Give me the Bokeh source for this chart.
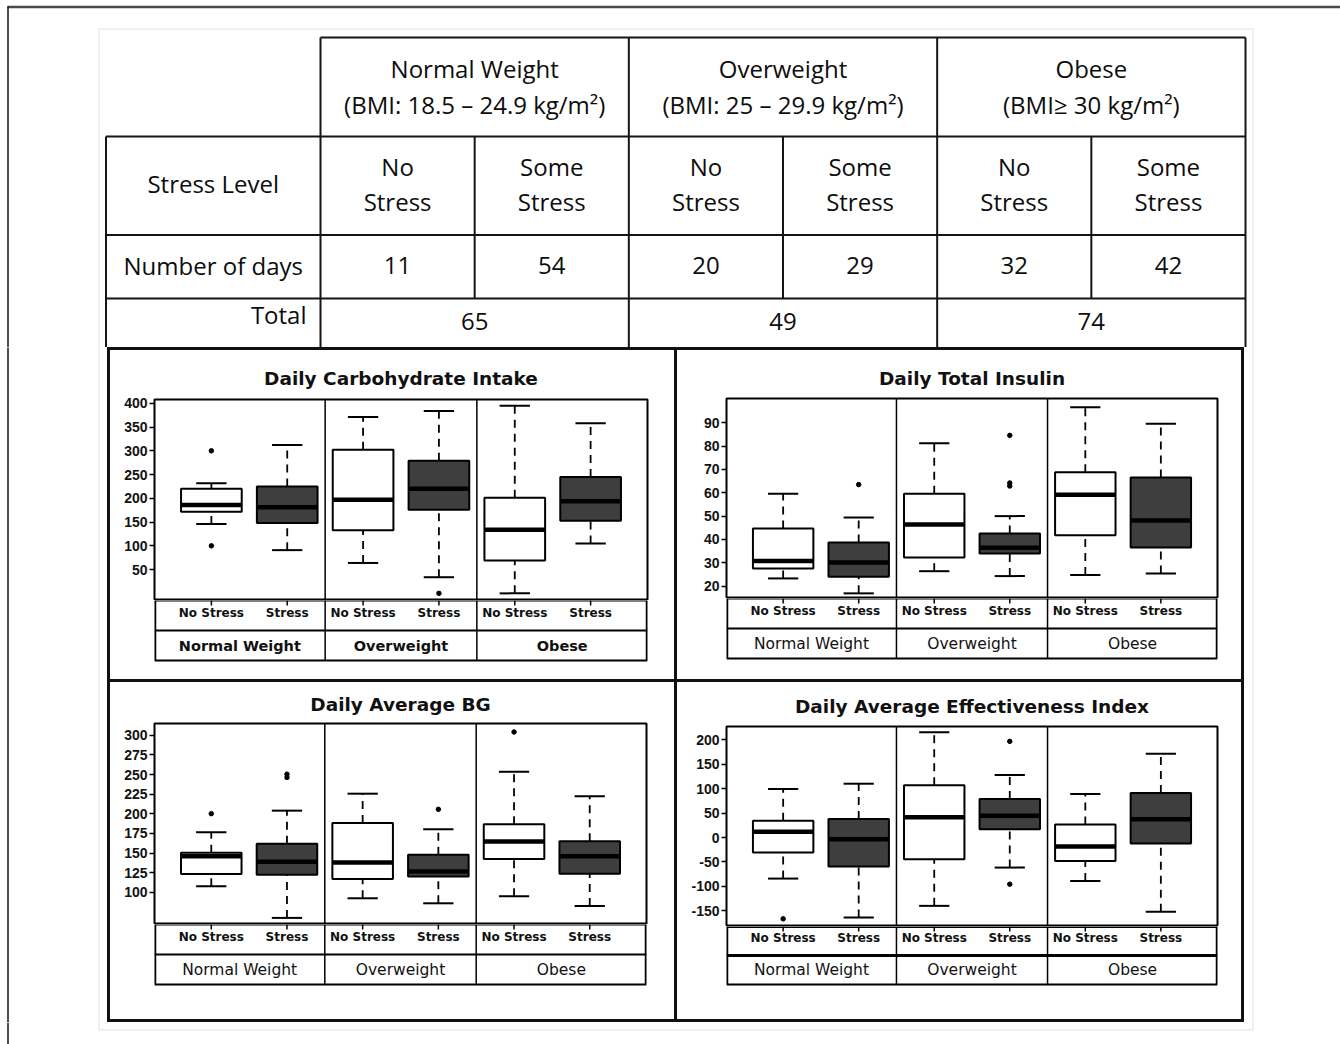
from bokeh.plotting import figure
from bokeh.layouts import column, row
from bokeh.models import Range1d, FixedTicker, Span, Spacer, GlobalInlineStyleSheet
from bokeh.core.properties import value
from bokeh.embed import file_html
from bokeh.resources import INLINE

# ---------------------------------------------------------------- data
bmi_groups = ["Normal Weight", "Overweight", "Obese"]
bmi_ranges = ["(BMI: 18.5 – 24.9 kg/m²)", "(BMI: 25 – 29.9 kg/m²)", "(BMI≥ 30 kg/m²)"]
table_stress = [["No", "Stress"], ["Some", "Stress"]]
stress_labels = ["No Stress", "Stress"]
days = [11, 54, 20, 29, 32, 42]

# box statistics, order: NW-no, NW-stress, OW-no, OW-stress, OB-no, OB-stress
carb_lo = [146, 91, 64, 34, 0, 105]
carb_q1 = [172, 148, 133, 176, 69, 153]
carb_med = [186, 181, 197, 220, 134, 194]
carb_q3 = [220, 225, 302, 279, 201, 245]
carb_hi = [232, 312, 371, 384, 395, 358]
carb_out_box = [0, 0, 3]
carb_out_val = [300, 100, 0]

ins_lo = [23.3, 16.9, 26.4, 24.3, 24.8, 25.4]
ins_q1 = [27.6, 24.0, 32.3, 34.0, 41.8, 36.5]
ins_med = [30.8, 30.1, 46.4, 36.4, 59.2, 48.1]
ins_q3 = [44.7, 38.7, 59.6, 42.5, 68.8, 66.5]
ins_hi = [59.6, 49.4, 81.2, 50.0, 96.6, 89.6]
ins_out_box = [1, 3, 3, 3]
ins_out_val = [63.5, 84.6, 64.2, 62.9]

bg_lo = [107.6, 67.4, 92.4, 86.0, 95.0, 82.7]
bg_q1 = [123.3, 122.4, 117.0, 120.0, 142.3, 123.7]
bg_med = [146.0, 139.0, 138.0, 126.6, 164.7, 146.0]
bg_q3 = [150.3, 161.7, 188.4, 147.8, 186.7, 165.1]
bg_hi = [176.5, 204.0, 225.6, 180.3, 253.5, 222.2]
bg_out_box = [0, 1, 1, 3, 4]
bg_out_val = [200.2, 250.5, 246.3, 205.7, 304.2]

eff_lo = [-84.0, -163.6, -139.8, -61.5, -88.7, -152.0]
eff_q1 = [-30.8, -59.4, -44.4, 16.8, -47.9, -12.4]
eff_med = [12.0, -3.6, 41.3, 44.7, -18.6, 37.3]
eff_q3 = [34.5, 38.0, 106.7, 78.8, 26.4, 91.0]
eff_hi = [99.2, 110.0, 215.0, 127.8, 89.0, 171.4]
eff_out_box = [0, 3, 3]
eff_out_val = [-166.3, 196.6, -95.5]

carb_ticks = [50, 100, 150, 200, 250, 300, 350, 400]
ins_ticks = [20, 30, 40, 50, 60, 70, 80, 90]
bg_ticks = [100, 125, 150, 175, 200, 225, 250, 275, 300]
eff_ticks = [-150, -100, -50, 0, 50, 100, 150, 200]

# ---------------------------------------------------------------- styles
INK = "#151515"
GRAY_FRAME = "#e2e2e2"
TABLE_FONT = value("Open Sans")
BOX_FILL = ["white", "#3e3e3e"] * 3


def blank_fig(w, h, xr, yr):
    f = figure(width=w, height=h, x_range=Range1d(*xr), y_range=Range1d(*yr),
               output_backend="svg", toolbar_location=None, min_border=0,
               x_axis_location=None, y_axis_location=None,
               outline_line_color=None, background_fill_color="white",
               border_fill_color="white")
    f.grid.visible = False
    return f


# ---------------------------------------------------------------- table
W_PAGE, H_PAGE = 1340, 1044
TOP_H = 347
top = blank_fig(W_PAGE, TOP_H, (0, W_PAGE), (TOP_H, 0))

TX0, TC0, TX1 = 105.5, 320.0, 1245.0
COL_W = (TX1 - TC0) / 6
ROWS = [37, 136, 234.5, 298, 347]
edges = [TC0 + COL_W * i for i in range(7)]
col_mid = [TC0 + COL_W * (i + 0.5) for i in range(6)]
grp_mid = [TC0 + COL_W * (2 * g + 1) for g in range(3)]

# page edge and faint frame
top.segment([7], [6.5], [W_PAGE], [6.5], line_color="#4a4a4a", line_width=2.5)
top.segment([7.5], [6], [7.5], [TOP_H], line_color=INK, line_width=1.5)
top.segment([98.5, 1252.5, 98.5], [28.5, 28.5, 28.5], [98.5, 1252.5, 1252.5], [TOP_H, TOP_H, 28.5],
            line_color=GRAY_FRAME, line_width=1)

# grid lines of the table
hx0 = [TC0, TX0, TX0, TX0]
hx1 = [TX1] * 4
hy = ROWS[:4]
top.segment(hx0, hy, hx1, hy, line_color=INK, line_width=2)
vx = [TX0, edges[0], edges[2], edges[4], edges[6], edges[1], edges[3], edges[5]]
vy0 = [ROWS[1], ROWS[0], ROWS[0], ROWS[0], ROWS[0], ROWS[1], ROWS[1], ROWS[1]]
vy1 = [ROWS[4]] * 5 + [ROWS[3]] * 3
top.segment(vx, vy0, vx, vy1, line_color=INK, line_width=2)

txt = dict(text_font=TABLE_FONT, text_font_size="24px", text_color="#0d0d0d",
           text_align="center", text_baseline="middle")
top.text(x=grp_mid, y=[68] * 3, text=bmi_groups, **txt)
top.text(x=grp_mid, y=[103.5] * 3, text=bmi_ranges, **txt)
top.text(x=col_mid, y=[166] * 6, text=[table_stress[i % 2][0] for i in range(6)], **txt)
top.text(x=col_mid, y=[201] * 6, text=[table_stress[i % 2][1] for i in range(6)], **txt)
top.text(x=col_mid, y=[265] * 6, text=[str(d) for d in days], **txt)
totals = [days[2 * g] + days[2 * g + 1] for g in range(3)]
top.text(x=grp_mid, y=[321] * 3, text=[str(t) for t in totals], **txt)
row_head_x = (TX0 + TC0) / 2
top.text(x=[row_head_x, row_head_x], y=[183, 265], text=["Stress Level", "Number of days"], **txt)
top.text(x=[306], y=[314], text=["Total"], text_font=TABLE_FONT, text_font_size="24px",
         text_color="#0d0d0d", text_align="right", text_baseline="middle")


# ---------------------------------------------------------------- box panels
X_LO, X_HI = 0.25, 6.75
GROUP_EDGES = [X_LO, 2.5, 4.5, X_HI]


def box_panel(title, lo, q1, med, q3, hi, out_box, out_val, yr, ticks, geo,
              group_style="normal", heavy=False, standoff=20):
    L, FW, R, T, FH, LH, RH = geo
    W = L + FW + R
    xs = [i + 1 for i in range(6)]
    p = figure(width=W, height=T + FH, x_range=Range1d(X_LO, X_HI), y_range=Range1d(*yr),
               output_backend="svg", toolbar_location=None, x_axis_location=None,
               min_border_left=L, min_border_right=R, min_border_top=T, min_border_bottom=0,
               outline_line_color="black", outline_line_width=2,
               background_fill_color="white", border_fill_color="white")
    p.grid.visible = False
    p.title.text = title
    p.title.align = "center"
    p.title.text_font = "DejaVu Sans"
    p.title.text_font_size = "18.5px"
    p.title.text_font_style = "bold"
    p.title.text_color = "#111111"
    p.title.standoff = standoff

    ax = p.yaxis[0]
    ax.ticker = FixedTicker(ticks=ticks)
    ax.major_label_overrides = {t: str(t) for t in ticks}
    ax.axis_line_color = None
    ax.major_tick_in = 0
    ax.major_tick_out = 5
    ax.major_tick_line_width = 1.5
    ax.major_tick_line_color = "black"
    ax.minor_tick_line_color = None
    ax.major_label_text_font = "Liberation Sans"
    ax.major_label_text_font_size = "14px"
    ax.major_label_text_font_style = "bold"
    ax.major_label_text_color = "#111111"
    ax.major_label_standoff = 2

    for xsep in GROUP_EDGES[1:3]:
        p.add_layout(Span(location=xsep, dimension="height", line_color="black", line_width=1.5))

    # whiskers
    p.segment(xs, q3, xs, hi, line_color="black", line_width=1.8, line_dash="8 6")
    p.segment(xs, lo, xs, q1, line_color="black", line_width=1.8, line_dash="8 6")
    c0 = [x - 0.2 for x in xs]
    c1 = [x + 0.2 for x in xs]
    p.segment(c0, hi, c1, hi, line_color="black", line_width=2)
    p.segment(c0, lo, c1, lo, line_color="black", line_width=2)
    # boxes and medians
    p.vbar(x=xs, width=0.8, bottom=q1, top=q3, fill_color=BOX_FILL,
           line_color="black", line_width=2)
    p.segment([x - 0.4 for x in xs], med, [x + 0.4 for x in xs], med,
              line_color="black", line_width=4.5)
    p.scatter([xs[b] for b in out_box], out_val, size=4.5, color="black")

    # category table under the plot (its frame lines up with the plot frame above)
    lf = blank_fig(W, LH, (X_LO, X_HI), (LH, 0))
    lw_top = 3 if heavy else 2
    lf.segment([X_LO] * 3, [0, RH, 2 * RH], [X_HI] * 3, [0, RH, 2 * RH],
               line_color="black", line_width=[lw_top, lw_top, 1.8])
    lf.segment(GROUP_EDGES, [0] * 4, GROUP_EDGES, [2 * RH] * 4, line_color="black",
               line_width=[3.5, 1.5, 1.5, 3.5])
    lf.segment(xs, [0] * 6, xs, [5] * 6, line_color="black", line_width=1.5)
    lf.text(x=xs, y=[RH * 0.4] * 6, text=stress_labels * 3, text_font=value("DejaVu Sans"),
            text_font_size="12px", text_font_style="bold", text_color="#111111",
            text_align="center", text_baseline="middle")
    cell_mid = [(GROUP_EDGES[g] + GROUP_EDGES[g + 1]) / 2 for g in range(3)]
    lf.text(x=cell_mid, y=[RH * 1.5] * 3, text=bmi_groups, text_font=value("DejaVu Sans"),
            text_font_size="14.5px" if group_style == "bold" else "15.5px",
            text_font_style=group_style, text_color="#111111",
            text_align="center", text_baseline="middle")
    return column(p, lf, spacing=0)


carb = box_panel("Daily Carbohydrate Intake", carb_lo, carb_q1, carb_med, carb_q3, carb_hi,
                 carb_out_box, carb_out_val, (-15, 408), carb_ticks,
                 (44, 493, 27, 49, 201, 79, 30), group_style="bold", standoff=22)
ins = box_panel("Daily Total Insulin", ins_lo, ins_q1, ins_med, ins_q3, ins_hi,
                ins_out_box, ins_out_val, (14.7, 100.4), ins_ticks,
                (49, 491, 24, 48, 200, 81, 30), standoff=20)
bg = box_panel("Daily Average BG", bg_lo, bg_q1, bg_med, bg_q3, bg_hi,
               bg_out_box, bg_out_val, (59, 315), bg_ticks,
               (44, 492, 28, 41, 201, 95, 30), standoff=17)
eff = box_panel("Daily Average Effectiveness Index", eff_lo, eff_q1, eff_med, eff_q3, eff_hi,
                eff_out_box, eff_out_val, (-182, 227), eff_ticks,
                (49, 491, 24, 44, 200, 93, 29), heavy=True, standoff=20)


def bar(w, h):
    return Spacer(width=w, height=h, styles={"background-color": "#111111"})


PW, B = 564, 3
block = column(
    bar(2 * PW + 3 * B, B),
    row(bar(B, 329), carb, bar(B, 329), ins, bar(B, 329), spacing=0),
    bar(2 * PW + 3 * B, B),
    row(bar(B, 337), bg, bar(B, 337), eff, bar(B, 337), spacing=0),
    bar(2 * PW + 3 * B, B),
    spacing=0,
)

MID_TOP, MID_BOT = 347, 1022
left = blank_fig(107, MID_BOT - MID_TOP, (0, 107), (MID_BOT, MID_TOP))
left.segment([7.5, 98.5], [MID_TOP] * 2, [7.5, 98.5], [MID_BOT] * 2,
             line_color=[INK, GRAY_FRAME], line_width=[1.5, 1])
right = blank_fig(W_PAGE - 1244, MID_BOT - MID_TOP, (1244, W_PAGE), (MID_BOT, MID_TOP))
right.segment([1252.5], [MID_TOP], [1252.5], [MID_BOT], line_color=GRAY_FRAME, line_width=1)

bottom = blank_fig(W_PAGE, H_PAGE - MID_BOT, (0, W_PAGE), (H_PAGE, MID_BOT))
bottom.segment([7.5], [MID_BOT], [7.5], [H_PAGE], line_color=INK, line_width=1.5)
bottom.segment([98.5, 1252.5, 98.5], [MID_BOT, MID_BOT, 1029.5], [98.5, 1252.5, 1252.5],
               [1029.5, 1029.5, 1029.5], line_color=GRAY_FRAME, line_width=1)

page = column(top, row(left, block, right, spacing=0), bottom, spacing=0,
              stylesheets=[GlobalInlineStyleSheet(css="html, body { margin: 0; padding: 0; }")])

open("out.html", "w").write(file_html(page, INLINE))
